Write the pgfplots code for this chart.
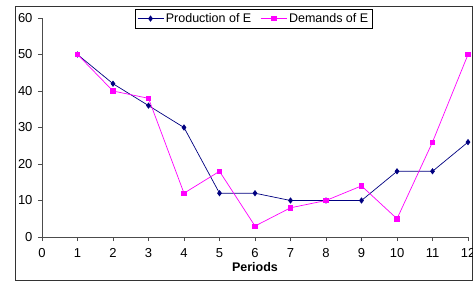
\documentclass[border=0pt]{standalone}
\usepackage{pgfplots}
\pgfplotsset{compat=1.18}
\usepackage{fontspec}
\setmainfont{Liberation Sans}
\definecolor{prod}{RGB}{0,0,128}
\definecolor{dem}{RGB}{255,0,255}
\begin{document}
\begin{tikzpicture}
\useasboundingbox (-42pt,-45pt) rectangle (431pt,237pt);
\draw[black!80, line width=0.9pt] (-27pt,-43pt) rectangle (430pt,231pt);
\begin{axis}[
  at={(0,0)}, anchor=south west,
  scale only axis, width=426pt, height=219pt,
  xmin=0, xmax=12, ymin=0, ymax=60,
  xtick={0,...,12}, ytick={0,10,...,60},
  axis x line*=bottom, axis y line*=left,
  axis line style={black!70, line width=0.8pt, -},
  tick style={black!70, line width=0.8pt},
  tick align=outside, major tick length=4pt,
  tick label style={font=\fontsize{13}{15}\selectfont},
  xticklabel style={yshift=-4pt},
  yticklabel style={xshift=-2pt},
  /pgf/number format/assume math mode=true,
  xlabel={\textbf{Periods}},
  xlabel style={font=\fontsize{12.5}{14}\selectfont, yshift=2pt},
  legend columns=2,
  legend style={at={(0.218,1.041)}, anchor=north west, draw=black, line width=0.6pt,
    font=\fontsize{12.5}{14}\selectfont, inner sep=2pt,
    /tikz/every even column/.append style={column sep=7pt}},
  legend cell align=left,
  legend image code/.code={\draw[mark repeat=2,mark phase=2] plot coordinates {(0pt,0pt)(13pt,0pt)(26pt,0pt)};},
]
\addplot[prod, line width=0.7pt, mark=diamond*, mark size=2.6pt, mark options={fill=prod, draw=prod}]
 coordinates {(1,50)(2,42)(3,36)(4,30)(5,12)(6,12)(7,10)(8,10)(9,10)(10,18)(11,18)(12,26)};
\addlegendentry{Production of E}
\addplot[dem, line width=0.7pt, mark=square*, mark size=2.2pt, mark options={fill=dem, draw=dem}]
 coordinates {(1,50)(2,40)(3,38)(4,12)(5,18)(6,3)(7,8)(8,10)(9,14)(10,5)(11,26)(12,50)};
\addlegendentry{Demands of E}
\end{axis}
\end{tikzpicture}
\end{document}
